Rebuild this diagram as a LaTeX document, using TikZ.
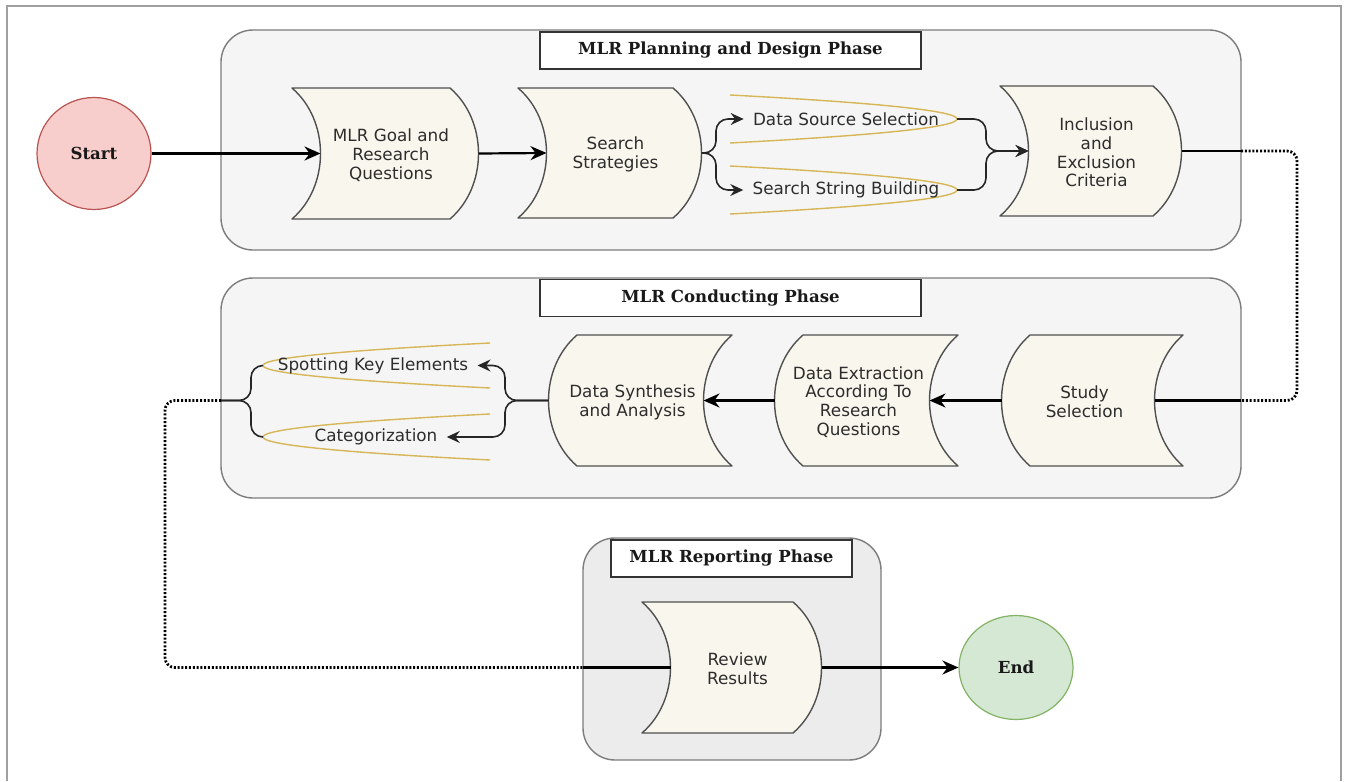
\documentclass[tikz,border=0pt]{standalone}
\usepackage{fontspec}
\usetikzlibrary{arrows.meta,shapes.geometric}
\newfontfamily\lblfont{DejaVu Sans}
\newfontfamily\ttlfont{DejaVu Serif}
\definecolor{panelfill}{RGB}{245,245,245}
\definecolor{panelfillb}{RGB}{236,236,236}
\definecolor{paneldraw}{RGB}{125,125,125}
\definecolor{docfill}{RGB}{249,247,237}
\definecolor{docdraw}{RGB}{80,80,80}
\definecolor{gold}{RGB}{214,182,86}
\definecolor{startfill}{RGB}{248,206,204}
\definecolor{startdraw}{RGB}{184,84,80}
\definecolor{endfill}{RGB}{213,232,212}
\definecolor{enddraw}{RGB}{130,179,102}
\definecolor{txt}{RGB}{45,45,45}
\definecolor{framegray}{RGB}{160,160,160}

\tikzset{
  panel/.style={draw=paneldraw, line width=0.7pt, rounded corners=16pt},
  titlebox/.style={draw=black!80, fill=white, line width=0.6pt, inner sep=0pt,
    minimum height=18.5pt, font=\ttlfont\bfseries\fontsize{8.3}{10}\selectfont, text=black!90},
  docshape/.style={draw=docdraw, fill=docfill, line width=0.7pt, line join=round},
  doctext/.style={align=center, inner sep=0pt, text=txt,
    font=\lblfont\fontsize{8.4}{9.4}\selectfont},
  brlabel/.style={inner xsep=4.5pt, inner ysep=1pt, text=txt,
    font=\lblfont\fontsize{8.4}{9.4}\selectfont},
  terminal/.style={ellipse, inner sep=0pt, line width=0.6pt,
    font=\ttlfont\bfseries\fontsize{8.3}{10}\selectfont, text=black!90},
  arr/.style={draw=black, line width=1.1pt, -{Stealth[length=8pt,width=7pt,inset=2.6pt]}},
  link/.style={draw=black, line width=1.1pt},
  brace/.style={draw=black!85, line width=0.8pt, rounded corners=6pt},
  bracearr/.style={brace, -{Stealth[length=6.5pt,width=6pt,inset=2.2pt]}},
  dotlink/.style={draw=black, line width=1.4pt, dash pattern=on 1pt off 0.9pt, rounded corners=5pt},
  fan/.style={draw=gold, line width=0.7pt},
}

% document shape flowing to the right: concave left side, convex right side
\newcommand{\docright}[6]{%
  \pgfmathsetmacro{\dcM}{(#4+#5)/2}%
  \pgfmathsetmacro{\dcQ}{(#5-#4)/4}%
  \pgfmathsetmacro{\dcT}{(#2+#3)/2+20}%
  \draw[docshape] (#2,#4) -- (#3,#4)
     .. controls ({#3+38},{#4+\dcQ}) and ({#3+38},{#5-\dcQ}) .. (#3,#5)
     -- (#2,#5)
     .. controls ({#2+38},{#5-\dcQ}) and ({#2+38},{#4+\dcQ}) .. (#2,#4) -- cycle;
  \coordinate (#1-in) at ({#2+28.5},\dcM);
  \coordinate (#1-out) at ({#3+28.5},\dcM);
  \node[doctext] (#1) at (\dcT,{\dcM+1.5}) {#6};
}
% document shape flowing to the left: convex left side, concave right side
\newcommand{\docleft}[6]{%
  \pgfmathsetmacro{\dcM}{(#4+#5)/2}%
  \pgfmathsetmacro{\dcQ}{(#5-#4)/4}%
  \pgfmathsetmacro{\dcT}{(#2+#3)/2-22}%
  \draw[docshape] (#2,#4) -- (#3,#4)
     .. controls ({#3-38},{#4+\dcQ}) and ({#3-38},{#5-\dcQ}) .. (#3,#5)
     -- (#2,#5)
     .. controls ({#2-38},{#5-\dcQ}) and ({#2-38},{#4+\dcQ}) .. (#2,#4) -- cycle;
  \coordinate (#1-in) at ({#3-28.5},\dcM);
  \coordinate (#1-out) at ({#2-28.5},\dcM);
  \node[doctext] (#1) at (\dcT,{\dcM+1.5}) {#6};
}

\begin{document}
\begin{tikzpicture}[x=0.5pt, y=-0.5pt]
\useasboundingbox (0,0) rectangle (1348,781);
\fill[white] (0,0) rectangle (1348,781);

% outer frame
\draw[framegray, line width=1.4pt] (7,781) -- (7,6) -- (1341,6) -- (1341,781);

% phase panels
\draw[panel, fill=panelfill] (221,30) rectangle (1241,250);
\draw[panel, fill=panelfill] (221,278) rectangle (1241,498);
\draw[panel, fill=panelfillb] (583,538) rectangle (881,760);

\node[titlebox, minimum width=190.5pt] (t1) at (730.5,50.5) {MLR Planning and Design Phase};
\node[titlebox, minimum width=190.5pt] (t2) at (730.5,298) {MLR Conducting Phase};
\node[titlebox, minimum width=120.5pt] (t3) at (731.5,558.5) {MLR Reporting Phase};

% start and end
\node[terminal, draw=startdraw, fill=startfill, minimum width=57pt, minimum height=56pt] (start) at (94,153.5) {Start};
\node[terminal, draw=enddraw, fill=endfill, minimum width=57pt, minimum height=52pt] (end) at (1016,667.5) {End};

% planning and design
\docright{goal}{292}{450}{88}{219}{MLR Goal and\\Research\\Questions}
\docright{strat}{518}{673}{88}{218}{Search\\Strategies}
\docright{incl}{1000}{1153}{86}{216}{Inclusion\\and\\Exclusion\\Criteria}

% conducting
\docleft{sel}{1030}{1183}{335}{466}{Study\\Selection}
\docleft{dex}{803}{958}{335}{466}{Data Extraction\\According To\\Research\\Questions}
\docleft{dsa}{577}{732}{335}{466}{Data Synthesis\\and Analysis}

% reporting
\docright{rev}{642}{793}{602}{733}{Review\\Results}

% fan outlines behind the branch labels
\draw[fan] (730,95) .. controls (1032.7,111) and (1032.7,127) .. (730,143);
\draw[fan] (730,166) .. controls (1032.7,182) and (1032.7,198) .. (730,214);
\draw[fan] (490,343) .. controls (187.3,358.3) and (187.3,372.7) .. (490,388);
\draw[fan] (490,414) .. controls (187.3,429.3) and (187.3,444.7) .. (490,460);
\coordinate (dss-tip) at (957,119);
\coordinate (ssb-tip) at (957,190);
\coordinate (spot-tip) at (263,365.5);
\coordinate (cat-tip) at (263,437);

\node[brlabel] (dss) at (846,119) {Data Source Selection};
\node[brlabel] (ssb) at (846,190) {Search String Building};
\node[brlabel] (spot) at (373,365.5) {Spotting Key Elements};
\node[brlabel] (cat) at (376,437) {Categorization};

% main flow
\draw[arr] (start) -- (goal-in);
\draw[arr] (goal-out) -- (strat-in);
\draw[bracearr] (strat-out) -- (716,153) -- (716,119) -- (dss.west);
\draw[bracearr] (strat-out) -- (716,153) -- (716,190) -- (ssb.west);
\draw[bracearr] (dss-tip) -- (986,119) -- (986,151) -- (incl-in);
\draw[bracearr] (ssb-tip) -- (986,190) -- (986,151) -- (incl-in);

% hand-over from planning to conducting
\coordinate (plexit) at (1241,151);
\coordinate (cdentry) at (1241,400.5);
\draw[link] (incl-out) -- (plexit);
\draw[dotlink] (plexit) -- (1297,151) -- (1297,400.5) -- (cdentry);
\draw[link] (cdentry) -- (sel-in);

\draw[arr] (sel-out) -- (dex-in);
\draw[arr] (dex-out) -- (dsa-in);
\draw[bracearr] (dsa-out) -- (505,400.5) -- (505,365.5) -- (spot.east);
\draw[bracearr] (dsa-out) -- (505,400.5) -- (505,437) -- (cat.east);

% hand-over from conducting to reporting
\coordinate (cdexit) at (221,400.5);
\coordinate (rpentry) at (583,667.5);
\draw[brace] (spot-tip) -- (251,365.5) -- (251,400.5) -- (cdexit);
\draw[brace] (cat-tip) -- (251,437) -- (251,400.5) -- (cdexit);
\draw[dotlink] (cdexit) -- (165,400.5) -- (165,667.5) -- (rpentry);
\draw[link] (rpentry) -- (rev-in);
\draw[arr] (rev-out) -- (end);
\end{tikzpicture}
\end{document}
